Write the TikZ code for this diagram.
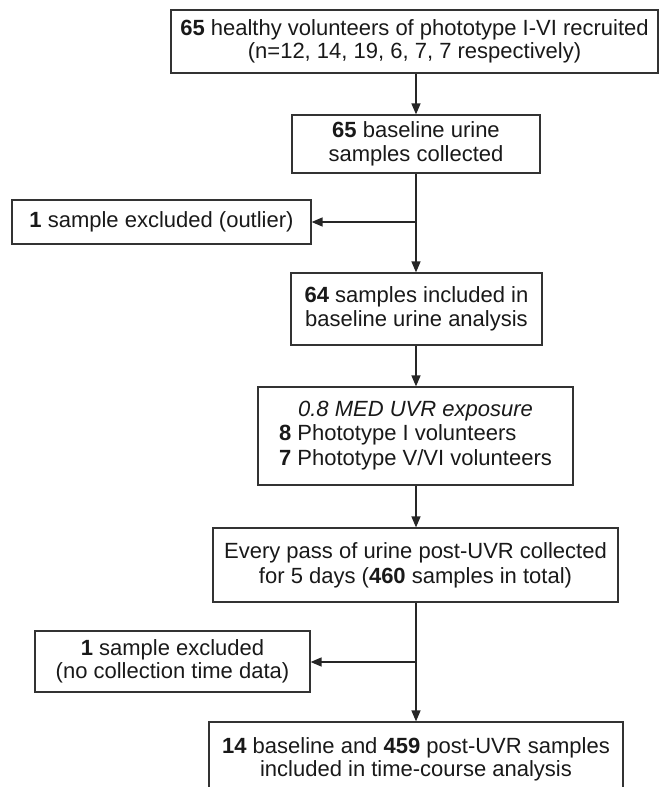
\documentclass[tikz,border=0pt]{standalone}
\usepackage{fontspec}
\setmainfont{Liberation Sans}
\usetikzlibrary{arrows.meta}
\begin{document}
\begin{tikzpicture}[x=1pt,y=-1pt,
  box/.style={draw=black!80,line width=1.2pt,inner sep=0pt,align=center,
    font=\fontsize{22}{23.5}\selectfont,text=black!90},
  flow/.style={line width=1.5pt,draw=black!85,-{Triangle[length=11pt,width=9pt]}},
  plain/.style={line width=1.5pt,draw=black!85}]
\useasboundingbox (0,0) rectangle (660,787);
\node[box,minimum width=487pt,minimum height=63pt] (b1) at (414.5,41.5)
  {\textbf{65} healthy volunteers of phototype I-VI recruited\\(n=12, 14, 19, 6, 7, 7 respectively)};
\node[box,minimum width=248pt,minimum height=58pt] (b2) at (416,144)
  {\textbf{65} baseline urine\\samples collected};
\node[box,minimum width=299pt,minimum height=44pt] (e1) at (161.5,222)
  {\textbf{1} sample excluded (outlier)};
\node[box,minimum width=251pt,minimum height=72pt] (b3) at (416.5,309)
  {\textbf{64} samples included in\\baseline urine analysis};
\node[box,minimum width=315pt,minimum height=98pt,font=\fontsize{22}{24.5}\selectfont] (b4) at (415.5,436)
  {\begin{tabular}{@{}l@{}}\multicolumn{1}{@{}c@{}}{\itshape 0.8 MED UVR exposure}\\
   \textbf{8} Phototype I volunteers\\ \textbf{7} Phototype V/VI volunteers\end{tabular}};
\node[box,minimum width=405pt,minimum height=74pt,font=\fontsize{22}{25}\selectfont] (b5) at (415.5,565)
  {Every pass of urine post-UVR collected\\for 5 days (\textbf{460} samples in total)};
\node[box,minimum width=275pt,minimum height=61pt] (e2) at (172.5,661.5)
  {\textbf{1} sample excluded\\(no collection time data)};
\node[box,minimum width=414pt,minimum height=75pt] (b6) at (416,759.5)
  {\textbf{14} baseline and \textbf{459} post-UVR samples\\included in time-course analysis};
\coordinate (j1) at (416,222);
\coordinate (j2) at (416,662);
\draw[flow] (b2.north |- b1.south) -- (b2.north);
\draw[flow] (b2.south) -- (b2.south |- b3.north);
\draw[flow] (j1) -- (e1.east);
\draw[flow] (b3.south -| j1) -- (b4.north -| j1);
\draw[flow] (b4.south -| j1) -- (b5.north -| j1);
\draw[plain] (b5.south -| j2) -- (j2);
\draw[flow] (j2) -- (b6.north -| j2);
\draw[flow] (j2) -- (e2.east |- j2);
\end{tikzpicture}
\end{document}
